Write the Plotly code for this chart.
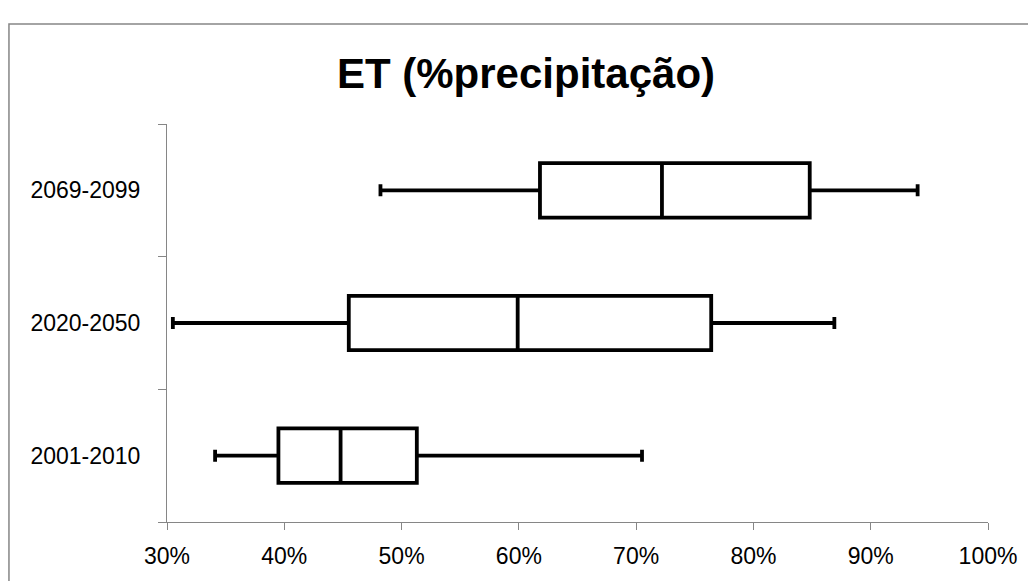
import plotly.graph_objects as go

# periods (bottom to top) and box statistics, as fractions of precipitation
periods = ["2001-2010", "2020-2050", "2069-2099"]
lower = [0.341, 0.305, 0.482]
q1 = [0.395, 0.455, 0.618]
median = [0.448, 0.599, 0.722]
q3 = [0.513, 0.764, 0.848]
upper = [0.705, 0.869, 0.940]

x_ticks = [0.3, 0.4, 0.5, 0.6, 0.7, 0.8, 0.9, 1.0]

axis_grey = "#868686"

fig = go.Figure()
fig.add_trace(go.Box(
    y=periods,
    q1=q1,
    median=median,
    q3=q3,
    lowerfence=lower,
    upperfence=upper,
    orientation="h",
    fillcolor="white",
    line=dict(color="black", width=3.8),
    whiskerwidth=0.22,
    boxpoints=False,
    hoverinfo="skip",
    showlegend=False,
))

# the page body adds 8px on top/left, so margins are shifted to compensate
fig.update_layout(
    width=1036,
    height=581,
    margin=dict(l=159, r=56, t=116, b=67),
    paper_bgcolor="white",
    plot_bgcolor="white",
    boxgap=0.59,
    boxgroupgap=0,
    font=dict(family="Liberation Sans, Arial, sans-serif", color="black"),
    title=dict(
        text="<b>ET (%precipitação)</b>",
        x=0.5, xref="container", xanchor="center",
        y=0.888, yref="container", yanchor="middle",
        font=dict(size=42, color="black"),
    ),
    xaxis=dict(
        range=[0.3, 1.0],
        tickvals=x_ticks,
        tickformat=".0%",
        showgrid=False,
        zeroline=False,
        showline=True,
        linecolor=axis_grey,
        linewidth=1,
        ticks="outside",
        ticklen=7,
        tickcolor=axis_grey,
        tickfont=dict(size=23),
        ticklabelstandoff=6,
    ),
    yaxis=dict(
        type="category",
        categoryorder="array",
        categoryarray=periods,
        range=[-0.5, 2.5],
        showgrid=False,
        zeroline=False,
        showline=True,
        linecolor=axis_grey,
        linewidth=1,
        ticks="outside",
        tickson="boundaries",
        ticklen=8,
        tickcolor=axis_grey,
        tickfont=dict(size=23),
        ticklabelstandoff=21,
    ),
    shapes=[dict(
        type="rect", xref="paper", yref="paper",
        x0=-0.1925, x1=1.05, y0=-0.3, y1=1.251,
        line=dict(color=axis_grey, width=1.5),
        fillcolor="rgba(0,0,0,0)",
        layer="below",
    )],
)

fig.write_html("out.html")
